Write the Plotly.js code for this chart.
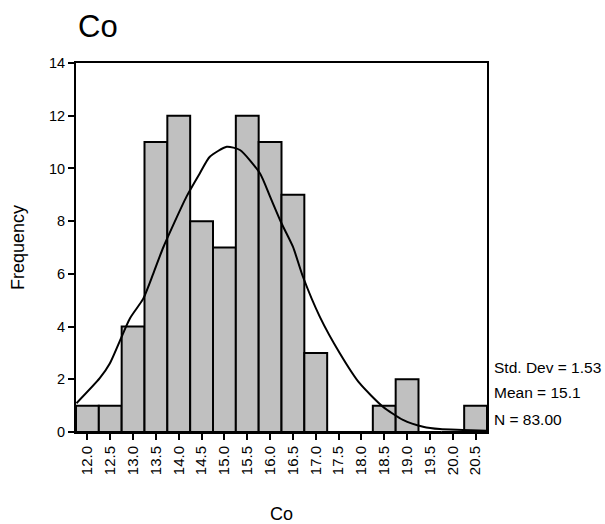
<!DOCTYPE html>
<html>
<head>
<meta charset="utf-8">
<script src="https://cdn.plot.ly/plotly-3.0.1.min.js"></script>
<style>html,body{margin:0;padding:0;background:#fff;}#chart{width:605px;height:524px;}</style>
</head>
<body>
<div id="chart"></div>
<script>
// Histogram bins (centers) and frequencies
const binCenters = [12.0, 12.5, 13.0, 13.5, 14.0, 14.5, 15.0, 15.5, 16.0, 16.5, 17.0, 17.5, 18.0, 18.5, 19.0, 19.5, 20.0, 20.5];
const frequencies = [1, 1, 4, 11, 12, 8, 7, 12, 11, 9, 3, 0, 0, 1, 2, 0, 0, 1];
const tickLabels = ["12.0","12.5","13.0","13.5","14.0","14.5","15.0","15.5","16.0","16.5","17.0","17.5","18.0","18.5","19.0","19.5","20.0","20.5"];
// Normal curve
const curveX = [11.76, 12.27, 12.49, 12.93, 13.22, 13.44, 13.66, 14.17, 14.46, 14.68, 15.05, 15.34, 15.78, 16.0, 16.25, 16.5, 16.72, 17.09, 17.53, 17.96, 18.47, 18.91, 19.35, 19.72, 20.22, 20.75];
const curveY = [1.09, 2.04, 2.6, 4.31, 5.05, 6.0, 7.0, 8.93, 9.81, 10.44, 10.82, 10.7, 9.81, 8.93, 7.92, 7.03, 5.89, 4.37, 2.98, 1.85, 0.96, 0.46, 0.2, 0.11, 0.08, 0.05];
const statLines = ["Std. Dev = 1.53", "Mean = 15.1", "N = 83.00"];
const yTickVals = [0, 2, 4, 6, 8, 10, 12, 14];

const FONT = "Liberation Sans, Arial, sans-serif";

const traces = [
  {
    type: "bar",
    x: binCenters,
    y: frequencies,
    width: 0.5,
    marker: {color: "#c0c0c0", line: {color: "#000", width: 2}},
    hoverinfo: "skip"
  },
  {
    type: "scatter",
    mode: "lines",
    x: curveX,
    y: curveY,
    line: {color: "#000", width: 2, shape: "spline", smoothing: 0.6},
    hoverinfo: "skip"
  }
];

const statY = [0.176, 0.106, 0.033];
const annotations = statLines.map((t, i) => ({
  text: t, xref: "paper", yref: "paper", x: 1.013, y: statY[i],
  xanchor: "left", yanchor: "middle", showarrow: false,
  font: {family: FONT, size: 15.5, color: "#000"}
}));
annotations.push({
  text: "Co", xref: "paper", yref: "paper", x: 0.0, y: 1.0, yshift: 37,
  xanchor: "left", yanchor: "middle", showarrow: false,
  font: {family: FONT, size: 31, color: "#000"}
});

const layout = {
  width: 605, height: 524,
  margin: {l: 76, r: 118, t: 63, b: 92, pad: 0},
  paper_bgcolor: "#fff", plot_bgcolor: "#fff",
  showlegend: false,
  bargap: 0,
  font: {family: FONT, color: "#000"},
  xaxis: {
    range: [11.75, 20.75],
    tickmode: "array", tickvals: binCenters, ticktext: tickLabels,
    tickangle: -90,
    ticks: "outside", ticklen: 6, tickwidth: 2, tickcolor: "#000",
    tickfont: {family: FONT, size: 15, color: "#000"},
    showline: true, linecolor: "#000", linewidth: 2, mirror: true,
    showgrid: false, zeroline: false,
    title: {text: "Co", font: {family: FONT, size: 18, color: "#000"}, standoff: 34}
  },
  yaxis: {
    range: [0, 14],
    tickmode: "array", tickvals: yTickVals,
    ticks: "outside", ticklen: 6, tickwidth: 2, tickcolor: "#000",
    tickfont: {family: FONT, size: 14.5, color: "#000"},
    showline: true, linecolor: "#000", linewidth: 2, mirror: true,
    showgrid: false, zeroline: false,
    title: {text: "Frequency", font: {family: FONT, size: 18, color: "#000"}, standoff: 20}
  },
  annotations: annotations
};

Plotly.newPlot("chart", traces, layout, {displayModeBar: false, staticPlot: true});
</script>
</body>
</html>
